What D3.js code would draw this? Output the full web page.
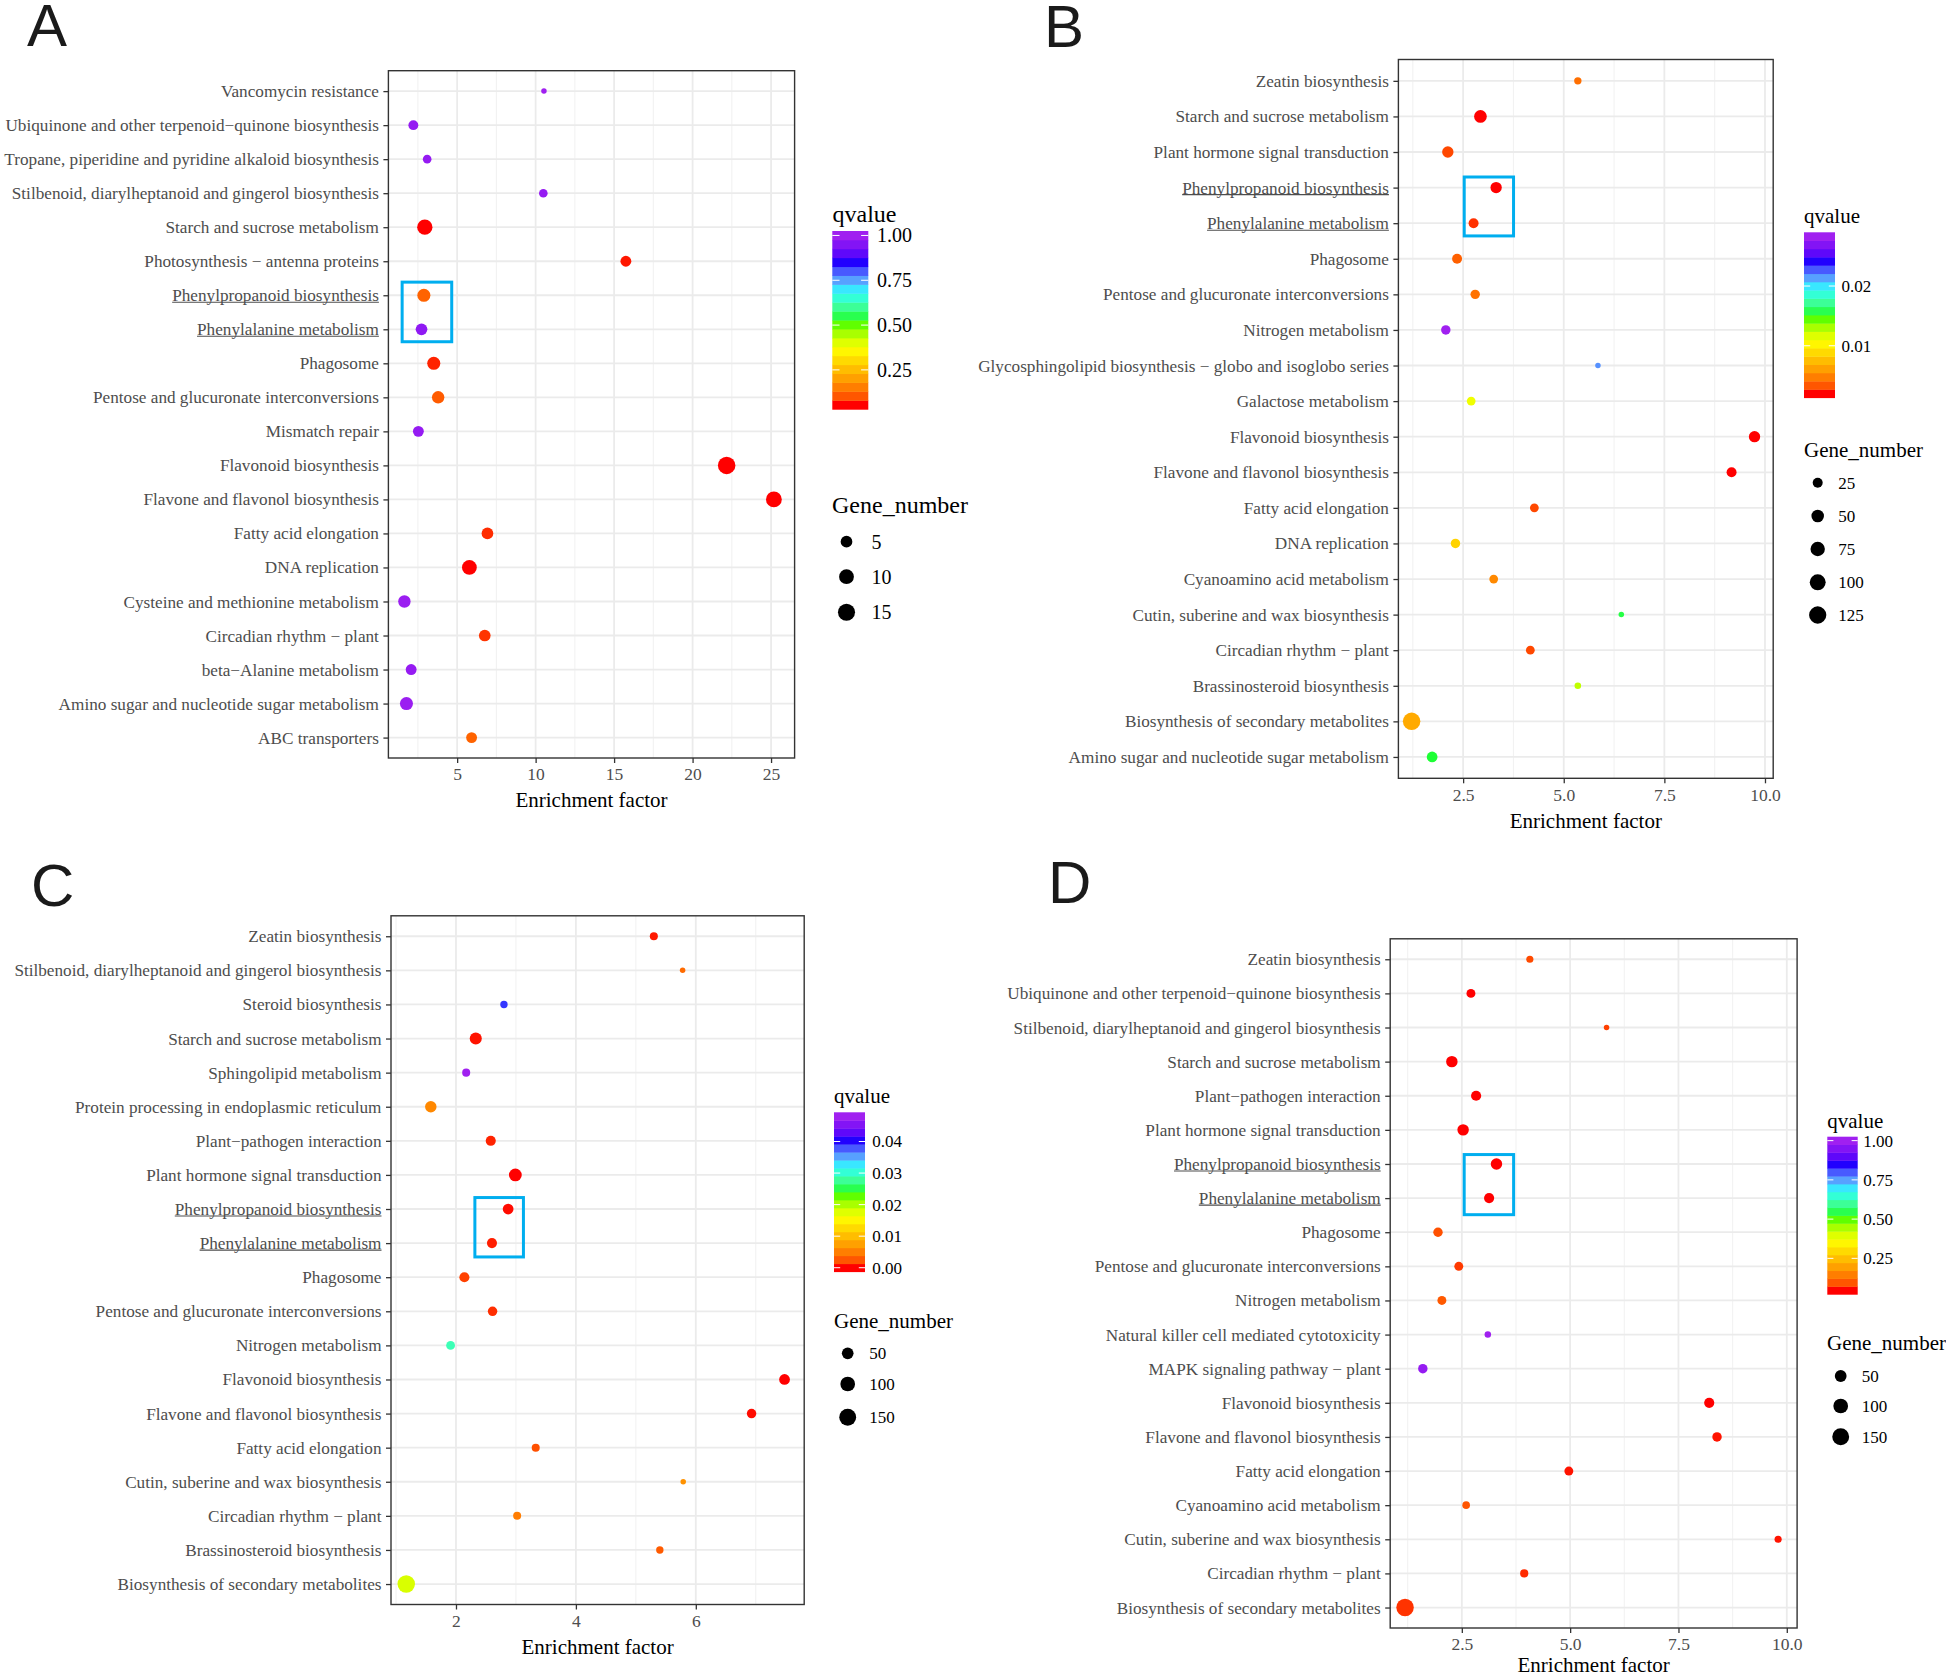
<!DOCTYPE html>
<html><head><meta charset="utf-8">
<script src="https://cdn.jsdelivr.net/npm/d3@7"></script>
<style>body{margin:0;background:#fff}svg{display:block}</style>
</head><body>
<svg id="chart" width="1946" height="1677"></svg>
<script>
// ---------------- DATA ----------------
const catsA = ["Vancomycin resistance","Ubiquinone and other terpenoid\u2212quinone biosynthesis","Tropane, piperidine and pyridine alkaloid biosynthesis","Stilbenoid, diarylheptanoid and gingerol biosynthesis","Starch and sucrose metabolism","Photosynthesis \u2212 antenna proteins","Phenylpropanoid biosynthesis","Phenylalanine metabolism","Phagosome","Pentose and glucuronate interconversions","Mismatch repair","Flavonoid biosynthesis","Flavone and flavonol biosynthesis","Fatty acid elongation","DNA replication","Cysteine and methionine metabolism","Circadian rhythm \u2212 plant","beta\u2212Alanine metabolism","Amino sugar and nucleotide sugar metabolism","ABC transporters"];
const enrichA = [10.53,2.21,3.09,10.49,2.94,15.75,2.88,2.73,3.51,3.79,2.53,22.17,25.18,6.93,5.78,1.64,6.76,2.07,1.77,5.92];
const qvalueA = [1.0,0.98,0.98,0.98,0.055,0.06,0.12,0.97,0.065,0.11,0.98,0.055,0.055,0.07,0.055,0.99,0.075,0.98,0.99,0.12];
const genesA = [1,3,2,2,11,4,7,5,7,6,4,16,12,5,10,6,5,4,7,4];

const catsB = ["Zeatin biosynthesis","Starch and sucrose metabolism","Plant hormone signal transduction","Phenylpropanoid biosynthesis","Phenylalanine metabolism","Phagosome","Pentose and glucuronate interconversions","Nitrogen metabolism","Glycosphingolipid biosynthesis \u2212 globo and isoglobo series","Galactose metabolism","Flavonoid biosynthesis","Flavone and flavonol biosynthesis","Fatty acid elongation","DNA replication","Cyanoamino acid metabolism","Cutin, suberine and wax biosynthesis","Circadian rhythm \u2212 plant","Brassinosteroid biosynthesis","Biosynthesis of secondary metabolites","Amino sugar and nucleotide sugar metabolism"];
const enrichB = [5.35,2.93,2.12,3.32,2.76,2.35,2.80,2.07,5.85,2.70,9.74,9.17,4.27,2.31,3.26,6.43,4.17,5.35,1.22,1.73];
const qvalueB = [0.0042,0.002,0.003,0.002,0.0025,0.0037,0.0043,0.0283,0.0217,0.0112,0.002,0.002,0.003,0.0086,0.0052,0.0157,0.003,0.0125,0.0066,0.0155];
const genesB = [11,52,37,37,25,25,21,21,8,17,37,25,17,21,17,8,17,9,130,31];

const catsC = ["Zeatin biosynthesis","Stilbenoid, diarylheptanoid and gingerol biosynthesis","Steroid biosynthesis","Starch and sucrose metabolism","Sphingolipid metabolism","Protein processing in endoplasmic reticulum","Plant\u2212pathogen interaction","Plant hormone signal transduction","Phenylpropanoid biosynthesis","Phenylalanine metabolism","Phagosome","Pentose and glucuronate interconversions","Nitrogen metabolism","Flavonoid biosynthesis","Flavone and flavonol biosynthesis","Fatty acid elongation","Cutin, suberine and wax biosynthesis","Circadian rhythm \u2212 plant","Brassinosteroid biosynthesis","Biosynthesis of secondary metabolites"];
const enrichC = [5.30,5.78,2.80,2.33,2.17,1.58,2.58,2.99,2.87,2.60,2.14,2.61,1.91,7.48,6.93,3.33,5.79,3.02,5.40,1.17];
const qvalueC = [0.0003,0.0038,0.039,0.0002,0.048,0.0058,0.0005,0.0,0.0001,0.0004,0.0015,0.0008,0.029,0.0,0.0001,0.0022,0.0065,0.005,0.0028,0.018];
const genesC = [15,8,12,55,15,47,31,66,38,31,31,25,20,38,25,15,8,15,12,165];

const catsD = ["Zeatin biosynthesis","Ubiquinone and other terpenoid\u2212quinone biosynthesis","Stilbenoid, diarylheptanoid and gingerol biosynthesis","Starch and sucrose metabolism","Plant\u2212pathogen interaction","Plant hormone signal transduction","Phenylpropanoid biosynthesis","Phenylalanine metabolism","Phagosome","Pentose and glucuronate interconversions","Nitrogen metabolism","Natural killer cell mediated cytotoxicity","MAPK signaling pathway \u2212 plant","Flavonoid biosynthesis","Flavone and flavonol biosynthesis","Fatty acid elongation","Cyanoamino acid metabolism","Cutin, suberine and wax biosynthesis","Circadian rhythm \u2212 plant","Biosynthesis of secondary metabolites"];
const enrichD = [4.07,2.71,5.84,2.27,2.83,2.53,3.30,3.13,1.95,2.43,2.04,3.10,1.60,8.21,8.39,4.97,2.60,9.80,3.94,1.19];
const qvalueD = [0.084,0.046,0.075,0.046,0.046,0.046,0.046,0.046,0.09,0.07,0.10,1.0,0.98,0.046,0.05,0.05,0.095,0.05,0.06,0.065];
const genesD = [10,20,7,46,31,46,46,31,24,20,20,8,24,31,24,20,12,10,15,165];

const xTicksA = [5,10,15,20,25];
const xTicksB = [2.5,5.0,7.5,10.0];
const xTicksC = [2,4,6];
const xTicksD = [2.5,5.0,7.5,10.0];
const qBreaksA = [0.25,0.50,0.75,1.00];
const qBreaksB = [0.01,0.02];
const qBreaksC = [0.00,0.01,0.02,0.03,0.04];
const qBreaksD = [0.25,0.50,0.75,1.00];
const sizeBreaksA = [5,10,15];
const sizeBreaksB = [25,50,75,100,125];
const sizeBreaksC = [50,100,150];
const sizeBreaksD = [50,100,150];
const highlighted = ["Phenylpropanoid biosynthesis","Phenylalanine metabolism"];
const highlightXA = [1.40,4.75];
const highlightXB = [2.49,3.79];
const highlightXC = [2.29,3.15];
const highlightXD = [2.52,3.73];

// ---------------- STYLE / LAYOUT ----------------
const rainbowStops = ["#FF0000","#FFA500","#FFFF00","#00FF00","#00FFFF","#0000FF","#A020F0"];
const SERIF = "'Liberation Serif','Times New Roman',serif";
const SANS = "'Liberation Sans',Arial,sans-serif";

const panels = [
  {letter:"A", letterPos:[27,46], cats:catsA, ef:enrichA, q:qvalueA, gn:genesA, xTicks:xTicksA, xFmt:d3.format("d"),
   qBreaks:qBreaksA, sBreaks:sizeBreaksA, hiX:highlightXA, hiPad:[0.43,0.41], titleOff:48.5,
   box:{x0:388.4,x1:794.6,y0:70.7,y1:758}, xDom:[0.62,26.5],
   leg:{titleSize:24, labelSize:20, qTitle:[832.5,221.5], bar:{x:832.3,y:231,w:36,h:178.3}, qLabelX:877,
        sTitle:[832,513], keyX:846.5, keyYs:[541.7,576.7,612.3], sLabelX:871.5}},
  {letter:"B", letterPos:[1044,47], cats:catsB, ef:enrichB, q:qvalueB, gn:genesB, xTicks:xTicksB, xFmt:d3.format(".1f"),
   qBreaks:qBreaksB, sBreaks:sizeBreaksB, hiX:highlightXB, hiPad:[0.34,0.40], titleOff:49.5,
   box:{x0:1398.4,x1:1773.2,y0:59.5,y1:778.3}, xDom:[0.892,10.204],
   leg:{titleSize:21, labelSize:17, qTitle:[1804,223], bar:{x:1804,y:232.3,w:31,h:165.4}, qLabelX:1841.5,
        sTitle:[1804,456.7], keyX:1817.7, keyYs:[482.7,516,549,582.3,615], sLabelX:1838.3}},
  {letter:"C", letterPos:[31,906], cats:catsC, ef:enrichC, q:qvalueC, gn:genesC, xTicks:xTicksC, xFmt:d3.format("d"),
   qBreaks:qBreaksC, sBreaks:sizeBreaksC, hiX:highlightXC, hiPad:[0.38,0.45], titleOff:49,
   box:{x0:391,x1:804.2,y0:915.8,y1:1604.5}, xDom:[0.916,7.808],
   leg:{titleSize:21, labelSize:17, qTitle:[834,1103.3], bar:{x:834,y:1112.3,w:31,h:159.4}, qLabelX:872.3,
        sTitle:[834,1328], keyX:847.7, keyYs:[1353.3,1384,1417.3], sLabelX:869.3}},
  {letter:"D", letterPos:[1048,903], cats:catsD, ef:enrichD, q:qvalueD, gn:genesD, xTicks:xTicksD, xFmt:d3.format(".1f"),
   qBreaks:qBreaksD, sBreaks:sizeBreaksD, hiX:highlightXD, hiPad:[0.32,0.53], titleOff:43.5,
   box:{x0:1390.2,x1:1797.1,y0:938.8,y1:1628}, xDom:[0.847,10.238],
   leg:{titleSize:21, labelSize:17, qTitle:[1827.3,1128], bar:{x:1827.3,y:1136.7,w:30.4,h:157.6}, qLabelX:1863.3,
        sTitle:[1827,1350], keyX:1840.7, keyYs:[1376,1406,1436.7], sLabelX:1861.7}}
];

const svg = d3.select("#chart");
svg.append("rect").attr("width",1946).attr("height",1677).attr("fill","#fff");

function drawPanel(p){
  const g = svg.append("g");
  const b = p.box;
  const x = d3.scaleLinear().domain(p.xDom).range([b.x0,b.x1]);
  const y = d3.scalePoint().domain(p.cats).range([b.y0,b.y1]).padding(0.6);
  const qExt = d3.extent(p.q);
  const col = d3.scaleLinear()
      .domain(d3.range(7).map(i => qExt[0] + i*(qExt[1]-qExt[0])/6))
      .range(rainbowStops).interpolate(d3.interpolateLab).clamp(true);
  const gExt = d3.extent(p.gn);
  const tNorm = d3.scaleLinear().domain(gExt).range([0,1]).clamp(true);
  const rLin = d3.scaleLinear().domain([0,1]).range([2.75,8.75]);
  const rad = v => rLin(Math.sqrt(tNorm(v)));

  // panel letter
  svg.append("text").attr("x",p.letterPos[0]).attr("y",p.letterPos[1])
    .attr("font-family",SANS).attr("font-size",60).attr("fill","#1a1a1a").text(p.letter);

  // grid
  const step = p.xTicks[1]-p.xTicks[0];
  const minors = [];
  for(let m = p.xTicks[0]-step/2; m <= p.xDom[1]; m += step){ if(m >= p.xDom[0]) minors.push(m); }
  g.selectAll(".minor").data(minors).join("line")
    .attr("x1",d=>x(d)).attr("x2",d=>x(d)).attr("y1",b.y0).attr("y2",b.y1)
    .attr("stroke","#F2F2F2").attr("stroke-width",1.1);
  g.selectAll(".majx").data(p.xTicks).join("line")
    .attr("x1",d=>x(d)).attr("x2",d=>x(d)).attr("y1",b.y0).attr("y2",b.y1)
    .attr("stroke","#EBEBEB").attr("stroke-width",1.8);
  g.selectAll(".majy").data(p.cats).join("line")
    .attr("x1",b.x0).attr("x2",b.x1).attr("y1",d=>y(d)).attr("y2",d=>y(d))
    .attr("stroke","#EBEBEB").attr("stroke-width",1.8);

  // points
  const rows = p.cats.map((c,i)=>({c, ef:p.ef[i], q:p.q[i], gn:p.gn[i]}));
  g.selectAll(".pt").data(rows).join("circle")
    .attr("cx",d=>x(d.ef)).attr("cy",d=>y(d.c)).attr("r",d=>rad(d.gn)).attr("fill",d=>col(d.q));

  // highlight box
  const hiIdx = highlighted.map(h=>p.cats.indexOf(h));
  const st = y.step();
  const yTop = y(p.cats[Math.min(...hiIdx)]) - p.hiPad[0]*st;
  const yBot = y(p.cats[Math.max(...hiIdx)]) + p.hiPad[1]*st;
  g.append("rect").attr("x",x(p.hiX[0])+1.5).attr("y",yTop+1.5)
    .attr("width",x(p.hiX[1])-x(p.hiX[0])-3).attr("height",yBot-yTop-3)
    .attr("fill","none").attr("stroke","#00AEEF").attr("stroke-width",3);

  // border
  g.append("rect").attr("x",b.x0).attr("y",b.y0).attr("width",b.x1-b.x0).attr("height",b.y1-b.y0)
    .attr("fill","none").attr("stroke","#333333").attr("stroke-width",1.4);

  // y axis
  const yAxis = d3.axisLeft(y).tickSize(5).tickPadding(4.5);
  const ya = g.append("g").attr("transform",`translate(${b.x0},0)`).call(yAxis);
  ya.select(".domain").remove();
  ya.selectAll(".tick line").attr("stroke","#333333").attr("stroke-width",1.3);
  ya.selectAll(".tick text").attr("font-family",SERIF).attr("font-size",17.2).attr("fill","#4D4D4D");
  ya.selectAll(".tick").each(function(d){
    if(highlighted.includes(d)){
      const t = d3.select(this).select("text");
      const w = t.node().getComputedTextLength();
      const tx = +t.attr("x");
      d3.select(this).append("line").attr("x1",tx-w).attr("x2",tx).attr("y1",6.5).attr("y2",6.5)
        .attr("stroke","#4D4D4D").attr("stroke-width",1.1);
    }
  });

  // x axis
  const xAxis = d3.axisBottom(x).tickValues(p.xTicks).tickFormat(p.xFmt).tickSize(5).tickPadding(5);
  const xa = g.append("g").attr("transform",`translate(0,${b.y1})`).call(xAxis);
  xa.select(".domain").remove();
  xa.selectAll(".tick line").attr("stroke","#333333").attr("stroke-width",1.3);
  xa.selectAll(".tick text").attr("font-family",SERIF).attr("font-size",17.5).attr("fill","#4D4D4D");

  g.append("text").attr("x",(b.x0+b.x1)/2).attr("y",b.y1+p.titleOff).attr("text-anchor","middle")
    .attr("font-family",SERIF).attr("font-size",21).attr("fill","#000").text("Enrichment factor");

  // colour legend
  const L = p.leg;
  g.append("text").attr("x",L.qTitle[0]).attr("y",L.qTitle[1]).attr("font-family",SERIF)
    .attr("font-size",L.titleSize).attr("fill","#000").text("qvalue");
  const nbin = 20, bh = L.bar.h/nbin;
  const bins = d3.range(nbin).map(i => qExt[0] + (qExt[1]-qExt[0])*i/(nbin-1));
  g.selectAll(".bin").data(bins).join("rect")
    .attr("x",L.bar.x).attr("width",L.bar.w)
    .attr("y",(d,i)=>L.bar.y + L.bar.h - (i+1)*bh).attr("height",bh+0.4)
    .attr("fill",d=>col(d));
  const qs = d3.scaleLinear().domain(qExt).range([L.bar.y+L.bar.h-bh/2, L.bar.y+bh/2]);
  const tl = L.bar.w/5;
  p.qBreaks.forEach(v=>{
    g.append("line").attr("x1",L.bar.x).attr("x2",L.bar.x+tl).attr("y1",qs(v)).attr("y2",qs(v)).attr("stroke","#fff").attr("stroke-width",1);
    g.append("line").attr("x1",L.bar.x+L.bar.w-tl).attr("x2",L.bar.x+L.bar.w).attr("y1",qs(v)).attr("y2",qs(v)).attr("stroke","#fff").attr("stroke-width",1);
    g.append("text").attr("x",L.qLabelX).attr("y",qs(v)).attr("dy","0.35em").attr("font-family",SERIF)
      .attr("font-size",L.labelSize).attr("fill","#000").text(d3.format(".2f")(v));
  });

  // size legend
  g.append("text").attr("x",L.sTitle[0]).attr("y",L.sTitle[1]).attr("font-family",SERIF)
    .attr("font-size",L.titleSize).attr("fill","#000").text("Gene_number");
  p.sBreaks.forEach((v,i)=>{
    g.append("circle").attr("cx",L.keyX).attr("cy",L.keyYs[i]).attr("r",rad(v)).attr("fill","#000");
    g.append("text").attr("x",L.sLabelX).attr("y",L.keyYs[i]).attr("dy","0.35em").attr("font-family",SERIF)
      .attr("font-size",L.labelSize).attr("fill","#000").text(v);
  });
}
panels.forEach(drawPanel);
</script>
</body></html>
